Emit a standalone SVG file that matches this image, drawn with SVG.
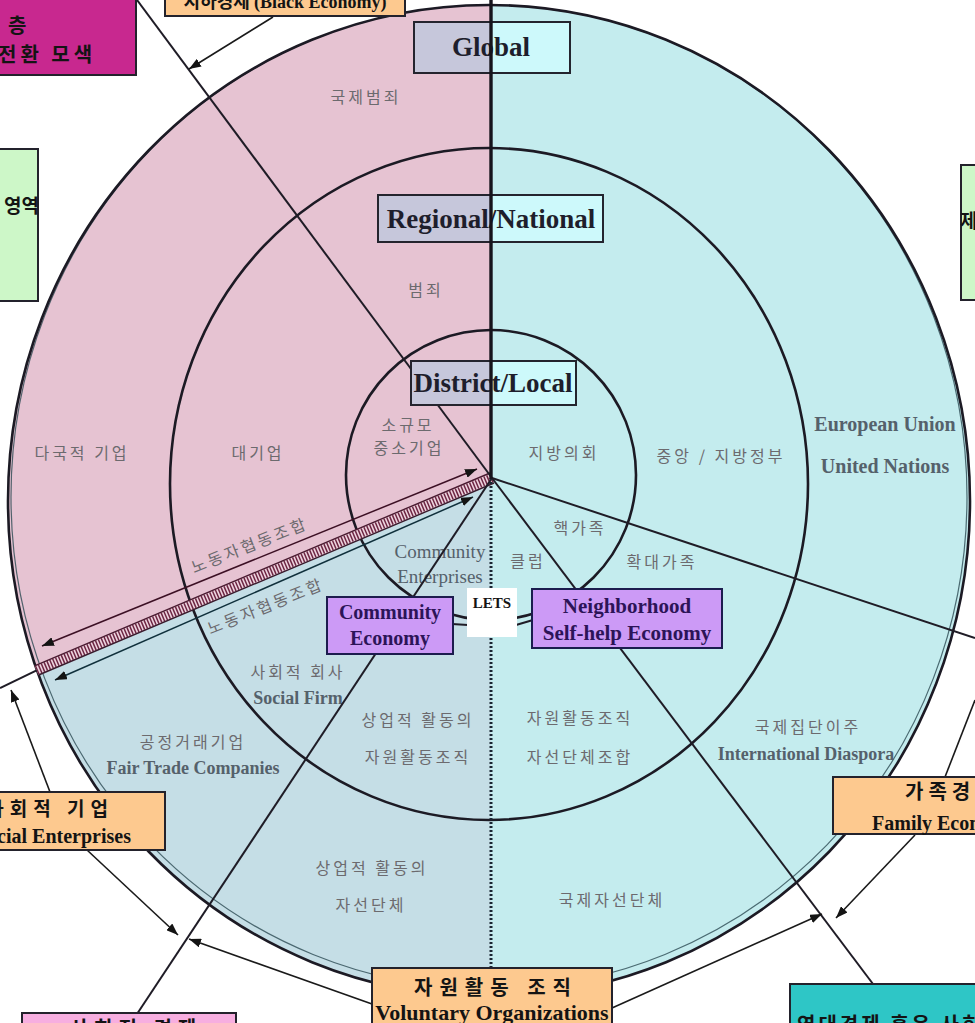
<svg xmlns="http://www.w3.org/2000/svg" width="975" height="1023" viewBox="0 0 975 1023">
  <defs>
    <style>
      .ko { font-family: 'Noto Sans CJK KR', 'Noto Sans', sans-serif; font-size: 16px; fill: #6c6a6e; letter-spacing: 3px; text-anchor: middle; }
      .en { font-family: 'Liberation Serif', 'DejaVu Serif', serif; fill: #55616b; text-anchor: middle; }
      .hdr { font-family: 'Liberation Serif', 'DejaVu Serif', serif; font-weight: bold; font-size: 27px; fill: #1e1e2c; text-anchor: middle; }
      .frame { fill: none; stroke: #24242e; stroke-width: 2; }
      .ring { fill: none; stroke: #1c1a24; stroke-width: 2.6; }
      .rad { fill: none; stroke: #1f1c26; stroke-width: 2; }
      .conn { fill: none; stroke: #1a1a1a; stroke-width: 1.6; }
      .box { stroke: #23222c; stroke-width: 2; }
      .bko { font-family: 'Noto Sans CJK KR', 'Noto Sans', sans-serif; font-weight: bold; fill: #141414; }
      .ben { font-family: 'Liberation Serif', 'DejaVu Serif', serif; font-weight: bold; fill: #141414; }
      .eco { font-family: 'Liberation Serif', 'DejaVu Serif', serif; font-weight: bold; fill: #2c1458; text-anchor: middle; }
    </style>
    <marker id="arr" viewBox="0 0 12 9" refX="12" refY="4.5" markerWidth="12" markerHeight="9" markerUnits="userSpaceOnUse" orient="auto-start-reverse">
      <path d="M0,0 L12,4.5 L0,9 Z" fill="#141414"/>
    </marker>
  </defs>

  <rect width="975" height="1023" fill="#ffffff"/>

  <!-- sectors -->
  <g id="sectors">
    <ellipse cx="489" cy="501" rx="481" ry="496" fill="#c4ecee"/>
    <path d="M491,478 L491,5 A481,496 0 0 0 36.6,670.4 Z" fill="#e6c3d2"/>
    <path d="M491,478 L36.6,670.4 A481,496 0 0 0 491,997 Z" fill="#c5dee6"/>
  </g>

  <!-- rings -->
  <g id="rings">
    <ellipse cx="489" cy="497" rx="478" ry="492" fill="none" stroke="#2c4a52" stroke-width="1.2" opacity="0.8"/>
    <ellipse cx="489" cy="501" rx="481" ry="496" class="ring" stroke-width="3"/>
    <ellipse cx="489" cy="484" rx="319" ry="336" class="ring"/>
    <circle cx="491" cy="475" r="145" class="ring"/>
  </g>

  <!-- in-circle labels -->
  <g id="labels">
    <text class="ko" x="366" y="103">국제범죄</text>
    <text class="ko" x="426" y="296">범죄</text>
    <text class="ko" x="408" y="431">소규모</text>
    <text class="ko" x="409" y="454">중소기업</text>
    <text class="ko" x="82" y="459">다국적 기업</text>
    <text class="ko" x="258" y="459">대기업</text>
    <text class="ko" x="564" y="459">지방의회</text>
    <text class="ko" x="721" y="462">중앙 / 지방정부</text>
    <text class="en" x="885" y="431" font-size="20" font-weight="bold" fill="#4b5757">European Union</text>
    <text class="en" x="885" y="473" font-size="20" font-weight="bold" fill="#4b5757">United Nations</text>
    <text class="ko" x="580" y="534">핵가족</text>
    <text class="ko" x="528" y="567">클럽</text>
    <text class="ko" x="662" y="568">확대가족</text>
    <text class="en" x="440" y="558" font-size="19">Community</text>
    <text class="en" x="440" y="583" font-size="19">Enterprises</text>
    <text class="ko" x="298" y="678">사회적 회사</text>
    <text class="en" x="298" y="704" font-size="18" font-weight="bold" fill="#5a6570">Social Firm</text>
    <text class="ko" x="418" y="726">상업적 활동의</text>
    <text class="ko" x="418" y="763">자원활동조직</text>
    <text class="ko" x="580" y="724">자원활동조직</text>
    <text class="ko" x="580" y="763">자선단체조합</text>
    <text class="ko" x="808" y="733">국제집단이주</text>
    <text class="en" x="806" y="760" font-size="18" font-weight="bold" fill="#4e5a5e">International Diaspora</text>
    <text class="ko" x="193" y="748">공정거래기업</text>
    <text class="en" x="193" y="774" font-size="18" font-weight="bold" fill="#53687a">Fair Trade Companies</text>
    <text class="ko" x="372" y="874">상업적 활동의</text>
    <text class="ko" x="371" y="911">자선단체</text>
    <text class="ko" x="612" y="906">국제자선단체</text>
    <text class="ko" x="250" y="551" font-size="14" letter-spacing="2" fill="#8a6878" transform="rotate(-21.5 250 546)">노동자협동조합</text>
    <text class="ko" x="266" y="612" font-size="14" letter-spacing="2" fill="#566a78" transform="rotate(-22 266 607)">노동자협동조합</text>
  </g>

  <!-- connectors -->
  <g id="connectors">
    <!-- worker co-op band between sectors -->
    <line x1="492" y1="478" x2="36.6" y2="670.4" stroke="#edd3de" stroke-width="10"/>
    <line x1="492" y1="478" x2="36.6" y2="670.4" stroke="#6e2744" stroke-width="9" stroke-dasharray="1.5 1.6"/>
    <line x1="494" y1="483" x2="38.6" y2="675" stroke="#3a1a2c" stroke-width="1.4"/>
    <line x1="490" y1="473" x2="34.6" y2="665.8" stroke="#4a1a30" stroke-width="1.4"/>
    <line x1="36.6" y1="670.4" x2="0" y2="688" class="rad"/>
    <!-- double-headed arrows along the band -->
    <line x1="42" y1="646" x2="477" y2="469" stroke="#3c1024" stroke-width="1.5" marker-start="url(#arr)" marker-end="url(#arr)"/>
    <line x1="55" y1="680" x2="473" y2="497" stroke="#10303c" stroke-width="1.5" marker-start="url(#arr)" marker-end="url(#arr)"/>
    <!-- radial lines from the hub -->
    <line x1="492" y1="478" x2="137" y2="0" class="rad"/>
    <line x1="492" y1="478" x2="975" y2="638" class="rad" stroke-width="3"/>
    <line x1="492" y1="478" x2="137" y2="1014" class="rad"/>
    <line x1="492" y1="478" x2="873" y2="984" class="rad"/>
    <line x1="491" y1="478" x2="491" y2="970" stroke="#1a2632" stroke-width="3" stroke-dasharray="2 2"/>
    <!-- outer arrows -->
    <line x1="273" y1="17" x2="189" y2="69" class="conn" marker-end="url(#arr)"/>
    <line x1="50" y1="792" x2="11" y2="690" class="conn" marker-end="url(#arr)"/>
    <line x1="87" y1="850" x2="178" y2="935" class="conn" marker-end="url(#arr)"/>
    <line x1="372" y1="1004" x2="189" y2="939" class="conn" marker-end="url(#arr)"/>
    <line x1="612" y1="1008" x2="822" y2="914" class="conn" marker-end="url(#arr)"/>
    <line x1="915" y1="835" x2="836" y2="918" class="conn" marker-end="url(#arr)"/>
    <line x1="945" y1="777" x2="975" y2="700" class="conn"/>
    <!-- links between the inner economy boxes -->
    <line x1="452" y1="624" x2="468" y2="625" class="rad" stroke-width="2.6"/>
    <line x1="516" y1="625" x2="533" y2="620" class="rad" stroke-width="2.6"/>
  </g>

  <!-- scale headers -->
  <g id="node-global">
    <rect x="414" y="22" width="77" height="51" fill="#c6c7db"/>
    <rect x="491" y="22" width="79" height="51" fill="#cdf9fb"/>
    <rect x="414" y="22" width="156" height="51" class="frame"/>
    <text class="hdr" x="491" y="56">Global</text>
  </g>
  <g id="node-regional">
    <rect x="378" y="195" width="113" height="47" fill="#c6c7db"/>
    <rect x="491" y="195" width="112" height="47" fill="#cdf9fb"/>
    <rect x="378" y="195" width="225" height="47" class="frame"/>
    <text class="hdr" x="491" y="228">Regional/National</text>
  </g>
  <g id="node-district">
    <rect x="411" y="361" width="80" height="44" fill="#c6c7db"/>
    <rect x="491" y="361" width="85" height="44" fill="#cdf9fb"/>
    <rect x="411" y="361" width="165" height="44" class="frame"/>
    <text class="hdr" x="493" y="392">District/Local</text>
  </g>

  <!-- centre divider -->
  <g id="divider">
    <line x1="491" y1="0" x2="491" y2="479" stroke="#16141c" stroke-width="3.4"/>
  </g>

  <!-- economy boxes -->
  <g id="node-community">
    <rect x="327" y="597" width="126" height="57" fill="#cc9af6" stroke="#1c1c4e" stroke-width="2"/>
    <text class="eco" x="390" y="619" font-size="20">Community</text>
    <text class="eco" x="390" y="645" font-size="20">Economy</text>
  </g>
  <g id="node-lets">
    <rect x="467" y="588" width="50" height="49" fill="#ffffff"/>
    <text class="ben" x="492" y="608" font-size="15" text-anchor="middle">LETS</text>
  </g>
  <g id="node-neighborhood">
    <rect x="532" y="589" width="190" height="59" fill="#cc9af6" stroke="#1c1c4e" stroke-width="2"/>
    <text class="eco" x="627" y="613" font-size="21">Neighborhood</text>
    <text class="eco" x="627" y="640" font-size="21">Self-help Economy</text>
  </g>

  <!-- outer boxes -->
  <g id="node-top-economy">
    <rect x="165" y="-30" width="240" height="46" fill="#fdc98f" class="box"/>
    <text class="bko" x="285" y="8" font-size="18" text-anchor="middle">지하경제 <tspan class="ben">(Black Economy)</tspan></text>
  </g>
  <g id="node-magenta">
    <rect x="-5" y="-5" width="141" height="80" fill="#c8288f" class="box"/>
    <text class="bko" x="8" y="33" font-size="20" fill="#2a0420">층</text>
    <text class="bko" x="-2" y="62" font-size="20" letter-spacing="4" fill="#2a0420">전환 모색</text>
  </g>
  <g id="node-green-left">
    <rect x="-5" y="149" width="43" height="152" fill="#cdf7c8" class="box"/>
    <text class="bko" x="39" y="213" font-size="19" text-anchor="end">영역</text>
  </g>
  <g id="node-green-right">
    <rect x="961" y="165" width="30" height="135" fill="#cdf7c8" class="box"/>
    <text class="bko" x="960" y="228" font-size="19">제</text>
  </g>
  <g id="node-social-enterprises">
    <rect x="-5" y="792" width="170" height="58" fill="#fdc98f" class="box"/>
    <text class="bko" x="114" y="816" font-size="19" letter-spacing="6" text-anchor="end">사회적 기업</text>
    <text class="ben" x="131" y="843" font-size="20" text-anchor="end">Social Enterprises</text>
  </g>
  <g id="node-family">
    <rect x="833" y="777" width="160" height="57" fill="#fdc98f" class="box"/>
    <text class="bko" x="905" y="799" font-size="20" letter-spacing="5">가족경제</text>
    <text class="ben" x="872" y="830" font-size="20">Family Economy</text>
  </g>
  <g id="node-voluntary">
    <rect x="372" y="968" width="240" height="70" fill="#fdc98f" class="box"/>
    <text class="bko" x="496" y="995" font-size="20" letter-spacing="7" text-anchor="middle">자원활동 조직</text>
    <text class="ben" x="492" y="1020" font-size="22" text-anchor="middle">Voluntary Organizations</text>
  </g>
  <g id="node-solidarity">
    <rect x="790" y="984" width="200" height="50" fill="#2ec6c6" class="box"/>
    <text class="bko" x="797" y="1032" font-size="20" letter-spacing="3" fill="#0a1a2a">연대경제 혹은 사회적경제</text>
  </g>
  <g id="node-social-economy">
    <rect x="22" y="1013" width="214" height="30" fill="#f7aee0" class="box"/>
    <text class="bko" x="136" y="1036" font-size="20" letter-spacing="6" text-anchor="middle">사회적 경제</text>
  </g>
</svg>
